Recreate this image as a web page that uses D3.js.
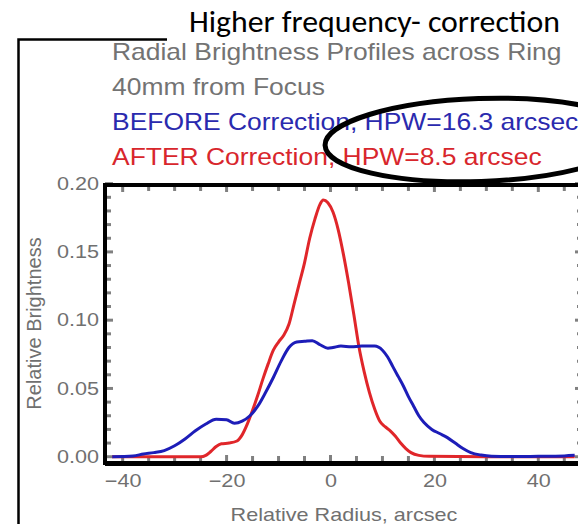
<!DOCTYPE html>
<html>
<head>
<meta charset="utf-8">
<script src="https://cdn.jsdelivr.net/npm/d3@7"></script>
<style>
  html, body { margin: 0; padding: 0; background: #fff; }
  svg { display: block; }
</style>
</head>
<body>
<div id="chart"></div>
<script>
// header / slide text
const slideTitle = "Higher frequency- correction";
const headerLines = [
    {text: "Radial Brightness Profiles across Ring", color: "#737373"},
    {text: "40mm from Focus", color: "#737373"},
    {text: "BEFORE Correction, HPW=16.3 arcsec", color: "#2a2aae"},
    {text: "AFTER Correction, HPW=8.5 arcsec", color: "#d8262c"}
];

// tick labels
const xTickValues = [-40, -20, 0, 20, 40];
const yTickValues = [0, 0.05, 0.10, 0.15, 0.20];

// AFTER correction (red)
const radiusAfter = [-42, -25, -24, -23, -22, -21, -19.5, -18, -17, -16, -15, -14, -13, -12, -11, -10, -9, -8, -7, -6, -5, -4, -3, -2, -1.4, -0.5, 0.5, 1.5, 2.5, 3.5, 4.5, 5.5, 6.5, 7.5, 8.5, 9.5, 10.5, 11.5, 12.5, 13.5, 14.5, 15.5, 17, 19, 30, 47];
const brightnessAfter = [0, 0, 0.001, 0.004, 0.0075, 0.0095, 0.0100, 0.0115, 0.016, 0.024, 0.034, 0.045, 0.057, 0.068, 0.078, 0.084, 0.089, 0.097, 0.112, 0.127, 0.142, 0.160, 0.174, 0.185, 0.188, 0.186, 0.179, 0.166, 0.148, 0.127, 0.104, 0.080, 0.062, 0.047, 0.035, 0.026, 0.022, 0.019, 0.015, 0.010, 0.006, 0.003, 0.001, 0.0003, 0, 0];

// BEFORE correction (blue)
const radiusBefore = [-42, -38, -36, -34, -32, -30, -28, -26, -24, -22, -20, -18.5, -17, -15.5, -14, -12.5, -11, -9.5, -8, -6.5, -5, -3.5, -2, -0.5, 0.5, 2, 4, 6, 8.5, 10, 11, 12, 13, 14, 15, 16, 17, 18, 19.5, 21, 22.5, 24, 25.5, 27, 29, 31, 35, 40, 45, 47];
const brightnessBefore = [0, 0.0005, 0.002, 0.003, 0.0045, 0.008, 0.013, 0.019, 0.024, 0.0275, 0.027, 0.0245, 0.026, 0.030, 0.037, 0.047, 0.058, 0.070, 0.080, 0.084, 0.0845, 0.085, 0.082, 0.0795, 0.080, 0.081, 0.0805, 0.081, 0.081, 0.078, 0.073, 0.066, 0.059, 0.052, 0.044, 0.037, 0.030, 0.025, 0.020, 0.017, 0.014, 0.010, 0.006, 0.003, 0.0012, 0.0004, 0.0002, 0.0003, 0.0006, 0.001];

const width = 578, height = 524;
const plot = {left: 105, right: 583, top: 185, bottom: 463};
const font = "'Liberation Sans', Arial, Helvetica, sans-serif";
const grey = "#707070";

const svg = d3.select("#chart").append("svg")
    .attr("width", width)
    .attr("height", height);

svg.append("rect").attr("width", width).attr("height", height).attr("fill", "#fff");

const x = d3.scaleLinear().domain([-43.4, 48.6]).range([plot.left, plot.right]);
const y = d3.scaleLinear().domain([-0.0046, 0.199]).range([plot.bottom, plot.top]);

// slide frame corner
svg.append("path")
    .attr("d", "M167,39.5 H18.5 V524")
    .attr("fill", "none")
    .attr("stroke", "#000")
    .attr("stroke-width", 2.5);

// slide title
svg.append("text")
    .attr("x", 189)
    .attr("y", 32)
    .attr("font-family", "Carlito, Calibri, 'Open Sans', sans-serif")
    .attr("font-size", 31)
    .attr("textLength", 371)
    .attr("lengthAdjust", "spacingAndGlyphs")
    .attr("fill", "#000")
    .text(slideTitle);

// plot header lines (image is stretched horizontally a bit)
const header = svg.append("g")
    .attr("transform", "translate(112,0) scale(1.15,1)")
    .attr("font-family", font)
    .attr("font-size", 23);

header.selectAll("text")
    .data(headerLines)
    .join("text")
    .attr("x", 0)
    .attr("y", (d, i) => 60 + i * 35)
    .attr("fill", d => d.color)
    .text(d => d.text);

// grey tick marks inside the frame
const ticks = svg.append("g").attr("stroke", "#808080").attr("stroke-width", 3);
const xMinor = d3.range(-40, 46, 5);
const yMinor = d3.range(0, 0.2001, 0.01);

ticks.selectAll(".tb").data(xMinor).join("line")
    .attr("x1", d => x(d)).attr("x2", d => x(d))
    .attr("y1", plot.bottom).attr("y2", d => plot.bottom - (d % 20 === 0 ? 8 : 7));
ticks.selectAll(".tt").data(xMinor).join("line")
    .attr("x1", d => x(d)).attr("x2", d => x(d))
    .attr("y1", plot.top).attr("y2", d => plot.top + (d % 20 === 0 ? 7 : 6));
ticks.selectAll(".tl").data(yMinor).join("line")
    .attr("x1", plot.left).attr("x2", (d, i) => plot.left + (i % 5 === 0 ? 8 : 6))
    .attr("y1", d => y(d)).attr("y2", d => y(d));
ticks.selectAll(".tr").data(yMinor).join("line")
    .attr("x1", plot.right).attr("x2", (d, i) => plot.right - (i % 5 === 0 ? 8 : 6))
    .attr("y1", d => y(d)).attr("y2", d => y(d));

// curves
const line = d3.line()
    .x(d => x(d[0]))
    .y(d => y(d[1]))
    .curve(d3.curveMonotoneX);

svg.append("path")
    .datum(d3.zip(radiusAfter, brightnessAfter))
    .attr("fill", "none")
    .attr("stroke", "#e0262a")
    .attr("stroke-width", 3)
    .attr("d", line);

svg.append("path")
    .datum(d3.zip(radiusBefore, brightnessBefore))
    .attr("fill", "none")
    .attr("stroke", "#1d1db8")
    .attr("stroke-width", 3)
    .attr("d", line);

// thick black frame
svg.append("path")
    .attr("d", `M${plot.right},${plot.top} H${plot.left} V${plot.bottom} H${plot.right}`)
    .attr("fill", "none")
    .attr("stroke", "#000")
    .attr("stroke-width", 4);
svg.append("line")
    .attr("x1", plot.left).attr("x2", plot.right)
    .attr("y1", plot.bottom + 0.5).attr("y2", plot.bottom + 0.5)
    .attr("stroke", "#000").attr("stroke-width", 5);

// tick labels
const xAxis = svg.append("g")
    .attr("transform", `translate(0,${plot.bottom})`)
    .call(d3.axisBottom(x).tickValues(xTickValues).tickSize(0).tickPadding(11));
xAxis.select(".domain").remove();
xAxis.attr("font-family", font).attr("font-size", 18);
xAxis.selectAll("text").attr("fill", grey).attr("transform", "scale(1.2,1)");

const yAxis = svg.append("g")
    .attr("transform", `translate(${plot.left},0)`)
    .call(d3.axisLeft(y).tickValues(yTickValues).tickFormat(d3.format(".2f")).tickSize(0));
yAxis.select(".domain").remove();
yAxis.attr("font-family", font).attr("font-size", 18);
yAxis.selectAll("text").attr("fill", grey).attr("x", -5).attr("transform", "scale(1.2,1)");

// axis titles
svg.append("text")
    .attr("transform", "translate(344,521) scale(1.2,1)")
    .attr("text-anchor", "middle")
    .attr("font-family", font)
    .attr("font-size", 18)
    .attr("fill", grey)
    .text("Relative Radius, arcsec");

svg.append("text")
    .attr("transform", "translate(41,323.5) rotate(-90)")
    .attr("text-anchor", "middle")
    .attr("font-family", font)
    .attr("font-size", 20)
    .attr("fill", grey)
    .text("Relative Brightness");

// hand-drawn highlight ellipse
svg.append("ellipse")
    .attr("cx", 480).attr("cy", 140)
    .attr("rx", 155).attr("ry", 41.5)
    .attr("transform", "rotate(-2,480,140)")
    .attr("fill", "none")
    .attr("stroke", "#000")
    .attr("stroke-width", 5);
</script>
</body>
</html>
